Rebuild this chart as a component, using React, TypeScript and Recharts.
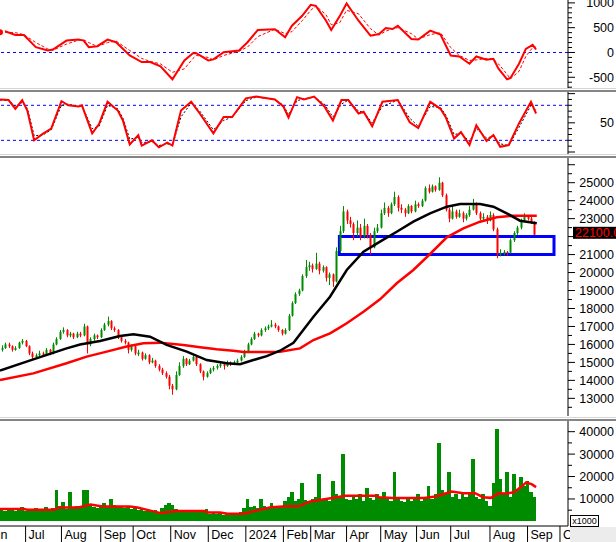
import React from 'react';
import { ComposedChart, Line, Bar, XAxis, YAxis, ReferenceLine, ReferenceArea } from 'recharts';

const FONT = '"Liberation Sans", Arial, sans-serif';
const GREEN = '#008c00';
const RED = '#ff0000';
const BLUE = '#0000ff';
const X_DOMAIN: [number, number] = [0, 332.7];

// ---- categories (trading-day index) ----
const monthStarts = [0, 15, 36, 59, 78, 100, 122, 144, 166, 182, 203, 223, 244, 264, 287, 309, 328];
const monthLabels = ['Jun', 'Jul', 'Aug', 'Sep', 'Oct', 'Nov', 'Dec', '2024', 'Feb', 'Mar', 'Apr', 'May', 'Jun', 'Jul', 'Aug', 'Sep', 'Oct'];

// ---- price candles, one per two sessions: [open, high, low, close] ----
const ohlc: [number, number, number, number][] = [
  [15700,15950,15600,15800],[15800,16100,15750,16000],[16000,16100,15800,15900],[15900,15950,15600,15700],
  [15700,15900,15650,15800],[15800,16150,15750,16100],[16100,16300,16000,16200],[16200,16250,15850,15900],
  [15900,15950,15400,15500],[15500,15600,15200,15300],[15300,15500,15250,15400],[15400,15650,15350,15500],
  [15500,15600,15300,15400],[15400,15800,15350,15700],[15700,15750,15400,15500],[15500,16100,15450,16000],
  [16000,16400,15950,16300],[16300,16800,16250,16700],[16700,16950,16600,16800],[16800,16850,16400,16500],
  [16500,16700,16400,16600],[16600,16650,16300,16400],[16400,16700,16350,16600],[16600,16700,16400,16500],
  [16500,17150,16450,17000],[17000,17050,15500,16000],[16000,16400,15900,16300],[16300,16600,16200,16500],
  [16500,16550,16300,16400],[16400,16900,16350,16800],[16800,17200,16750,17100],[17100,17550,17000,17300],
  [17300,17350,16800,16900],[16900,17000,16700,16800],[16800,16850,16300,16400],[16400,16500,16100,16200],
  [16200,16300,16000,16100],[16100,16150,15500,15700],[15700,16000,15600,15900],[15900,15950,15400,15500],
  [15450,15700,15350,15550],[15550,15600,15100,15200],[15200,15500,15150,15400],[15400,15450,14900,15000],
  [15000,15250,14950,15100],[15100,15150,14700,14800],[14800,14900,14500,14600],[14600,14700,14300,14400],
  [14400,14500,14100,14200],[14200,14300,13500,13700],[13700,13800,13200,13500],[13500,14500,13450,14300],
  [14300,15000,14250,14800],[14800,15350,14700,15200],[15200,15250,14800,14900],[14900,15200,14850,15100],
  [15100,15400,15050,15300],[15300,15350,14800,14900],[14900,14950,14400,14500],[14500,14550,14000,14200],
  [14200,14500,14150,14400],[14400,14700,14350,14600],[14600,14800,14500,14700],[14700,14900,14600,14800],
  [14800,15000,14700,14900],[14900,14950,14600,14800],[14800,15100,14750,15000],[15000,15050,14800,14900],
  [14900,15100,14850,15000],[15000,15200,14950,15100],[15100,15400,15050,15300],[15300,15700,15250,15600],
  [15600,16100,15550,16000],[16000,16400,15950,16300],[16300,16700,16250,16600],[16600,16650,16400,16500],
  [16500,16900,16450,16800],[16800,17000,16700,16900],[16900,17100,16800,17000],[17000,17350,16950,17100],
  [17100,17200,16900,17000],[17000,17050,16700,16800],[16800,16850,16500,16600],[16600,16900,16550,16800],
  [16800,17700,16750,17600],[17600,18400,17550,18300],[18300,18900,18250,18800],[18800,19100,18700,19000],
  [19000,19900,18950,19800],[19800,20700,19700,20300],[20300,20600,20100,20400],[20400,20500,20000,20200],
  [20200,21100,20150,20500],[20500,20600,19900,20100],[20100,20400,20000,20300],[20300,20350,19500,19700],
  [19700,20000,19300,19900],[19900,19950,19200,19500],[19500,21400,19450,21200],[21200,22600,21100,22300],
  [22300,23700,22200,23400],[23400,23500,22700,22900],[22900,23100,22500,22700],[22700,22800,21800,22200],
  [22200,22900,22000,22500],[22500,22700,21800,22000],[22000,23000,21900,22600],[22600,22700,21900,22100],
  [22100,22200,21000,21400],[21400,22500,21350,22300],[22300,22700,22200,22500],[22500,23500,22450,23300],
  [23300,23900,23200,23600],[23600,23700,23100,23300],[23300,23900,23250,23800],[23800,24500,23700,24200],
  [24200,24300,23400,23600],[23600,23800,23300,23500],[23500,23600,23100,23300],[23300,23800,23250,23700],
  [23700,23750,23300,23400],[23400,24000,23350,23800],[23800,23900,23600,23700],[23700,24100,23650,24000],
  [24000,24800,23950,24700],[24700,24900,24400,24500],[24500,24900,24450,24800],[24800,24850,24500,24600],
  [24600,25300,24550,25000],[25000,25050,24200,24300],[24300,24400,23400,23500],[23500,23600,22800,23000],
  [23000,23700,22950,23400],[23400,23500,23000,23100],[23100,23500,23050,23300],[23300,23400,22800,23000],
  [23000,23300,22900,23200],[23200,23700,23100,23500],[23500,24100,23450,23800],[23800,23900,23200,23300],
  [23300,23400,22900,23000],[23000,23300,22900,23100],[23100,23200,22700,22900],[22900,23400,22850,23200],
  [23200,23300,22300,22400],[22400,22500,20800,21000],[21000,21300,20900,21100],[21050,21250,20950,21150],
  [21150,21200,20950,21100],[21100,21900,21050,21800],[21800,22300,21700,22200],[22200,22600,22100,22500],
  [22500,23000,22400,22900],[22900,23300,22800,23100],[23100,23200,22900,23000],[23000,23100,22700,22800],
  [22800,22850,22100,22100],
];
const candleDays = ohlc.map((_, i) => 2 * i + 1);
const lastClose = 22100;

// ---- volume (x1000), one per candle ----
const volume = [
  5200,4800,6000,5500,4500,5000,6200,4700,5300,4900,5800,4600,5100,6500,5000,
  6000,14000,7000,8500,5500,13000,6500,7000,6000,14000,14000,7500,6500,6000,7000,8000,6500,10000,7500,6500,7000,6000,6500,5500,6000,5000,5500,4500,5000,
  4500,5200,4000,6000,7500,8000,7500,5500,4500,5000,4200,4800,5200,4500,5000,4000,5500,3200,3600,3400,4200,3000,3300,3500,3000,3400,4000,
  6000,10000,6500,7000,6000,10000,7000,6500,8000,6000,7000,6500,9000,11000,13000,9000,10000,17000,9500,9000,10000,11000,21000,10000,9500,9000,18000,12000,11000,30000,
  10000,9500,11000,10000,12000,9000,15000,10500,9500,12000,11000,13000,10000,9000,22000,10000,9000,8500,11000,9000,10500,12000,9000,11000,16000,10000,12000,35000,
  14000,12000,22000,11000,12000,10000,13000,11000,12500,28000,11000,10000,12000,9000,7000,17000,41000,19000,12000,22000,11000,21000,14000,20000,16000,18000,13000,11000,
];

// ---- moving averages: [day, value] ----
const maFast: [number, number][] = [
  [0,14540],[19.5,15170],[39,15780],[46.9,16000],[58.6,16190],[70.3,16470],[78.1,16560],[87.9,16430],
  [97.6,15970],[109.4,15600],[121.1,15130],[132.8,14950],[140.6,14900],[148.4,15130],[156.2,15350],
  [164,15650],[171.9,16096],[183.6,17543],[193.3,18656],[203.1,20142],[212.9,21160],[222.6,21717],
  [232.4,22273],[242.1,22830],[251.9,23297],[261.7,23664],[269.5,23815],[281.2,23815],[289,23664],
  [296.8,23297],[304.6,22885],[314.4,22740],
];
const maSlow: [number, number][] = [
  [0,14020],[19.5,14390],[39,14950],[50.8,15320],[62.5,15600],[74.2,15880],[84,16070],[93.7,16100],
  [107.4,15970],[117.2,15840],[126.9,15730],[136.7,15650],[142.6,15580],[156.2,15580],[164,15595],
  [175.7,15780],[183.6,16246],[193.3,16618],[198.2,16897],[203.1,17175],[212.9,17821],[222.6,18510],
  [232.4,19402],[242.1,20142],[251.9,21032],[261.7,21961],[271.4,22462],[281.2,22830],[291,23075],
  [300.7,23164],[314.4,23164],
];
const volMa: [number, number][] = [
  [0,5500],[14,5500],[16,5200],[32,5200],[34.5,6200],[46,6200],[53,7500],[60,6600],[76,6600],[80.5,6200],
  [87.4,4900],[94.3,3700],[103.5,4600],[119.6,4600],[122,4000],[128.8,4000],[133.4,3400],[142.6,3400],
  [149.5,4700],[158.7,6300],[168,6700],[174.8,6700],[181.7,8900],[191,10000],[202.4,11400],[220.8,11400],
  [222,10800],[230,10400],[248.4,10400],[255.3,11100],[264.5,13350],[271.4,12600],[278.3,12600],
  [282.9,10800],[287.5,10500],[292,12500],[296.6,12400],[301,13000],[305.5,15500],[308.2,17400],
  [311.6,16500],[314,15300],
];

// ---- MACD: [day, macd, signal] ----
const macdRows: [number, number, number][] = [
  [0,406,395],[3,427,410],[9,353,400],[14,353,360],[21,107,200],[28,40,70],[31,60,45],[39,240,170],
  [46,260,250],[49,240,255],[52,107,200],[57,127,120],[63,260,200],[68,207,230],[76,-60,40],[83,-193,-120],
  [88,-193,-180],[94,-280,-230],[101,-540,-400],[108,-160,-330],[113,-13,-120],[115,-13,-60],[122,-160,-100],
  [125,-140,-150],[131,7,-60],[140,40,25],[145,207,110],[151,453,320],[161,467,470],[167,307,380],
  [171,540,420],[177,740,640],[182,960,850],[185,940,940],[191,640,760],[194,453,560],[199,733,600],
  [203,987,850],[210,640,780],[217,340,480],[222,373,350],[226,493,430],[230,473,480],[233,540,500],
  [241,273,380],[245,260,270],[252,440,360],[258,360,400],[264,-60,100],[269,-80,-60],[275,-227,-160],
  [279,-80,-150],[285,-147,-120],[289,-127,-135],[292,-327,-230],[297,-540,-440],[299,-513,-530],
  [304,-227,-380],[308,73,-80],[312,153,100],[314,60,110],
];

// ---- Stochastic: [day, %K, %D] ----
const stochRows: [number, number, number][] = [
  [0,90,89],[5,89,89],[9,74,78],[13,89,85],[16,71,75],[20,20,28],[25,31,29],[30,40,38],[36,87,80],
  [40,80,82],[46,78,78],[48,80,79],[54,32,40],[58,48,44],[63,86,80],[69,71,74],[72,54,58],[76,13,22],
  [81,29,25],[83,11,16],[89,20,18],[93,8,11],[98,16,14],[101,11,12],[106,71,60],[112,86,84],[117,66,70],
  [125,32,38],[131,60,54],[136,60,60],[144,92,88],[150,95,94],[161,90,90],[166,78,80],[169,59,64],
  [174,94,88],[178,90,91],[184,95,94],[190,78,82],[195,54,60],[200,89,82],[204,89,89],[210,66,70],
  [213,69,68],[218,44,50],[224,86,78],[233,89,89],[240,51,58],[245,41,44],[252,86,78],[258,74,76],
  [261,60,64],[266,23,30],[270,34,32],[275,12,18],[279,46,40],[285,19,24],[289,29,27],[293,9,14],
  [298,12,11],[304,49,42],[311,86,80],[314,66,72],
];

// ---- support zone ----
const zoneStart = 198.8;
const zoneEnd = 324.5;
const zoneLow = 21000;
const zoneHigh = 22000;

// ---- tick lists ----
const range = (a: number, b: number, s: number) => { const r: number[] = []; for (let v = a; v <= b + 1e-9; v += s) r.push(v); return r; };
const macdTicks = range(-700, 1000, 100);
const stochTicks = range(0, 100, 10);
const priceTicks = [...range(12500, 26000, 500), lastClose];
const volTicks = range(5000, 45000, 5000);

// ---- derived rows ----
const candles = ohlc.map(([o, h, l, c], i) => ({ t: candleDays[i], o, h, l, c, vol: volume[i] }));
const toRows = (a: [number, number][]) => a.map(([t, v]) => ({ t, v }));
const maFastData = toRows(maFast);
const maSlowData = toRows(maSlow);
const volMaData = toRows(volMa);
const macdData = macdRows.map(([t, m, s]) => ({ t, m, s }));
const stochData = stochRows.map(([t, k, d]) => ({ t, k, d }));

const makeTick = (majorStep: number, labelled: (v: number) => boolean, tag?: number) => (props: any) => {
  const { x, y, payload } = props;
  const v = payload.value as number;
  if (tag !== undefined && v === tag) {
    return (
      <g>
        <rect x={x + 5} y={y - 8} width={60} height={12} fill="#000" />
        <text x={x + 7} y={y + 2.5} fill={RED} fontSize={12.5} fontFamily={FONT}>{v.toFixed(2)}</text>
      </g>
    );
  }
  const major = Math.abs(v % majorStep) < 1e-6;
  return (
    <g>
      <line x1={x} x2={x + (major ? 7 : 4)} y1={y} y2={y} stroke="#000" strokeWidth={1} />
      {labelled(v) && (
        <text x={x + 46} y={y + 4.5} textAnchor="end" fontSize={12.5} fontFamily={FONT} fill="#000">{v}</text>
      )}
    </g>
  );
};

const MonthTick = (props: any) => {
  const { x, y, payload } = props;
  const idx = monthStarts.indexOf(payload.value);
  const label = monthLabels[idx];
  if (idx === 0) {
    return <text x={x + 7.5} y={y + 13} textAnchor="end" fontSize={12.5} fontFamily={FONT} fill="#000">{label}</text>;
  }
  return (
    <g>
      <line x1={x} x2={x} y1={y} y2={y + 16} stroke="#000" strokeWidth={1} />
      <text x={x + 3} y={y + 13} fontSize={12.5} fontFamily={FONT} fill="#000">{label}</text>
    </g>
  );
};

const Candle = (props: any) => {
  const { x, y, width, height, payload } = props;
  if (!payload) return null;
  const { o, h, l, c } = payload;
  const color = c >= o ? GREEN : RED;
  const top = height < 0 ? y + height : y;
  const hh = Math.abs(height);
  const span = h - l || 1;
  const py = (v: number) => top + ((h - v) / span) * hh;
  const cx = Math.round(x + width / 2) + 0.5;
  const bTop = py(Math.max(o, c));
  const bBot = py(Math.min(o, c));
  return (
    <g>
      <line x1={cx} x2={cx} y1={top} y2={top + hh} stroke={color} strokeWidth={1} />
      <rect x={cx - 1} y={bTop} width={2} height={Math.max(1, bBot - bTop)} fill={color} />
    </g>
  );
};

const VolBar = (props: any) => {
  const { x, y, width, height } = props;
  const top = height < 0 ? y + height : y;
  const hh = Math.abs(height);
  const cx = x + width / 2;
  return <rect x={cx - 1.8} y={top} width={3.6} height={hh} fill={GREEN} shapeRendering="crispEdges" />;
};

const margin = { top: 0, right: 0, bottom: 0, left: 0 };
const axisLine = { stroke: '#000', strokeWidth: 1 };

const Sep = ({ y }: { y: number }) => (
  <>
    <div style={{ position: 'absolute', left: 0, top: y, width: 616, height: 1, background: '#d6d6d6' }} />
    <div style={{ position: 'absolute', left: 0, top: y + 2, width: 616, height: 2, background: '#858585' }} />
  </>
);

export default function App() {
  return (
    <div style={{ position: 'absolute', left: 0, top: 0, width: 616, height: 542, background: '#fff', overflow: 'hidden', fontFamily: FONT }}>
      {/* MACD */}
      <div style={{ position: 'absolute', left: 0, top: 0 }}>
        <ComposedChart width={616} height={88} data={macdData} margin={margin}>
          <XAxis type="number" dataKey="t" domain={X_DOMAIN} allowDataOverflow hide />
          <YAxis orientation="right" width={48} type="number" domain={[-716, 1058]} allowDataOverflow ticks={macdTicks} interval={0}
            tickSize={0} tickMargin={0} tickLine={false} axisLine={axisLine}
            tick={makeTick(500, (v) => v % 500 === 0 && v >= -500)} />
          <ReferenceLine y={0} stroke={BLUE} strokeDasharray="3 3" strokeWidth={1} />
          <Line type="linear" dataKey="s" stroke={RED} strokeWidth={1} strokeDasharray="3 2" dot={false} isAnimationActive={false} />
          <Line type="linear" dataKey="m" stroke={RED} strokeWidth={2} dot={false} isAnimationActive={false} />
        </ComposedChart>
      </div>

      {/* Stochastic */}
      <div style={{ position: 'absolute', left: 0, top: 91 }}>
        <ComposedChart width={616} height={63} data={stochData} margin={margin}>
          <XAxis type="number" dataKey="t" domain={X_DOMAIN} allowDataOverflow hide />
          <YAxis orientation="right" width={48} type="number" domain={[-3.4, 104.5]} allowDataOverflow ticks={stochTicks} interval={0}
            tickSize={0} tickMargin={0} tickLine={false} axisLine={axisLine}
            tick={makeTick(50, (v) => v === 50)} />
          <ReferenceLine y={80} stroke={BLUE} strokeDasharray="3 3" strokeWidth={1} />
          <ReferenceLine y={20} stroke={BLUE} strokeDasharray="3 3" strokeWidth={1} />
          <Line type="linear" dataKey="d" stroke="#000" strokeWidth={1} strokeDasharray="2 2" dot={false} isAnimationActive={false} />
          <Line type="linear" dataKey="k" stroke={RED} strokeWidth={2} dot={false} isAnimationActive={false} />
        </ComposedChart>
      </div>

      {/* Price */}
      <div style={{ position: 'absolute', left: 0, top: 157 }}>
        <ComposedChart width={616} height={259} data={candles} margin={margin}>
          <XAxis type="number" dataKey="t" domain={X_DOMAIN} allowDataOverflow hide />
          <YAxis orientation="right" width={48} type="number" domain={[12017, 26430]} allowDataOverflow ticks={priceTicks} interval={0}
            tickSize={0} tickMargin={0} tickLine={false} axisLine={axisLine}
            tick={makeTick(1000, (v) => v % 1000 === 0 && v >= 13000 && v <= 25000 && v !== 22000, lastClose)} />
          <Bar dataKey={(d: any) => [d.l, d.h]} barSize={3} shape={(p: any) => <Candle {...p} />} isAnimationActive={false} />
          <Line data={maSlowData} type="linear" dataKey="v" stroke={RED} strokeWidth={2.5} dot={false} isAnimationActive={false} />
          <Line data={maFastData} type="linear" dataKey="v" stroke="#000" strokeWidth={2.5} dot={false} isAnimationActive={false} />
          <ReferenceArea x1={zoneStart} x2={zoneEnd} y1={zoneLow} y2={zoneHigh} fill="none" fillOpacity={0} stroke={BLUE} strokeWidth={3} />
        </ComposedChart>
      </div>

      {/* Volume */}
      <div style={{ position: 'absolute', left: 0, top: 421 }}>
        <ComposedChart width={616} height={121} data={candles} margin={margin}>
          <XAxis type="number" dataKey="t" domain={X_DOMAIN} allowDataOverflow ticks={monthStarts} interval={0} height={16}
            tickSize={0} tickMargin={0} tickLine={false} axisLine={axisLine} tick={MonthTick} />
          <YAxis orientation="right" width={48} type="number" domain={[-2050, 44760]} allowDataOverflow ticks={volTicks} interval={0}
            tickSize={0} tickMargin={0} tickLine={false} axisLine={axisLine}
            tick={makeTick(10000, (v) => v % 10000 === 0 && v <= 40000)} />
          <Bar dataKey="vol" fill={GREEN} barSize={3} shape={(p: any) => <VolBar {...p} />} isAnimationActive={false} />
          <Line data={volMaData} type="linear" dataKey="v" stroke={RED} strokeWidth={2.5} dot={false} isAnimationActive={false} />
        </ComposedChart>
      </div>

      <Sep y={88} />
      <Sep y={154} />
      <Sep y={417} />

      <div style={{ position: 'absolute', left: 570, top: 527, width: 46, height: 15, background: '#ececec' }} />
      <div style={{ position: 'absolute', left: 570, top: 515, width: 27, height: 10, border: '1px solid #000', background: '#fff',
        fontSize: 9, lineHeight: '10px', textAlign: 'center', color: '#000', fontFamily: FONT }}>x1000</div>
    </div>
  );
}
